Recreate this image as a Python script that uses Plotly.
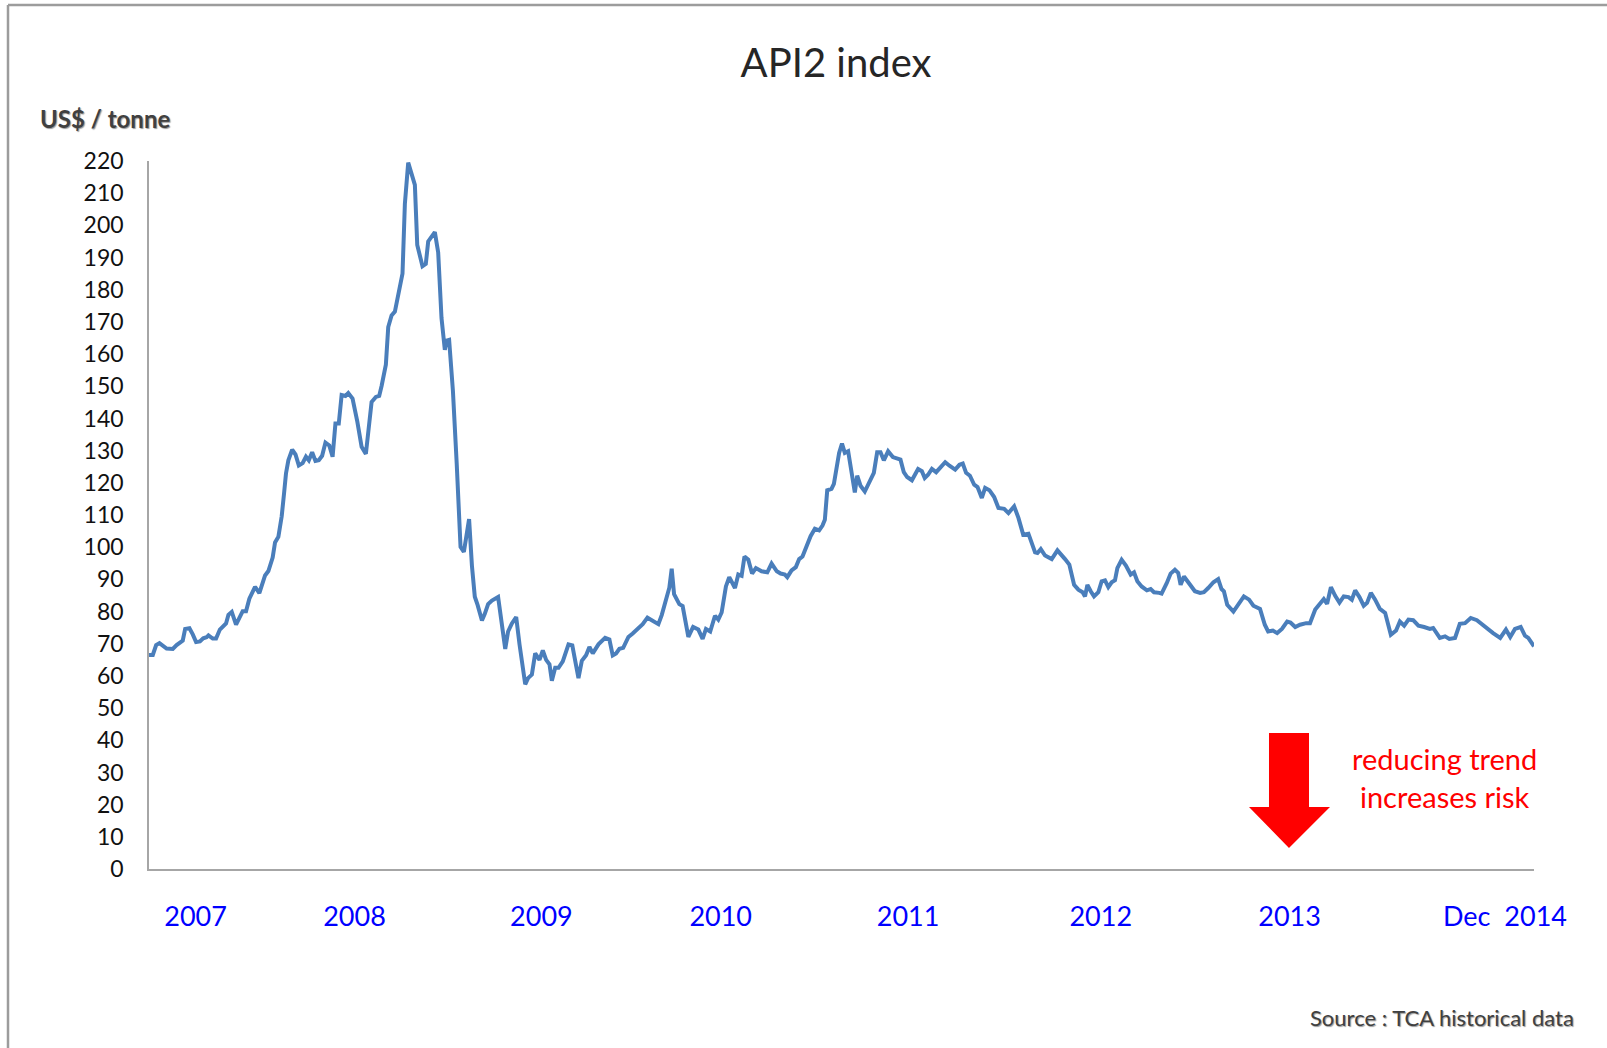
import pandas as pd
import plotly.graph_objects as go

# API2 coal index, US$/tonne. Observations are given as day offsets from the first print.
START = "2007-01-05"
day_offset = [
    0, 8, 15, 22, 37, 50, 58, 71, 76, 85, 92, 99, 107, 114, 121, 125, 134, 141, 149, 162,
    167, 174, 183, 190, 197, 204, 211, 223, 232, 244, 251, 260, 265, 272, 279, 284, 288, 293,
    301, 308, 315, 323, 330, 336, 343, 350, 357, 364, 371, 379, 386, 392, 399, 405, 413, 419,
    428, 438, 447, 456, 463, 468, 477, 484, 489, 498, 503, 510, 517, 524, 533, 538, 545,
    559, 564, 575, 582, 587, 601, 608, 615, 622, 626, 631, 639, 647, 655, 662, 673, 679, 685,
    691, 700, 706, 713, 721, 727, 734, 749, 755, 763, 772, 779, 786, 791, 797, 805, 812, 821,
    828, 835, 842, 847, 854, 861, 870, 882, 890, 903, 910, 919, 926, 933, 945, 959, 968, 975,
    982, 989, 997, 1008, 1017, 1031, 1038, 1048, 1059, 1071, 1078, 1088, 1094, 1099, 1104,
    1115, 1122, 1134, 1144,
    1155, 1164, 1171, 1180, 1190, 1197, 1204, 1213, 1220, 1232, 1239, 1246, 1252, 1260, 1268,
    1276, 1288, 1300, 1309, 1320, 1328, 1337, 1342, 1351, 1360, 1367, 1374, 1383, 1391, 1400,
    1409, 1416, 1421, 1426, 1435, 1440, 1446, 1451, 1457, 1463, 1470, 1477, 1484, 1489, 1496,
    1505, 1512, 1519, 1524, 1531, 1538, 1545, 1554, 1564, 1572, 1580, 1587, 1594, 1604, 1610,
    1617, 1625, 1631, 1638, 1646, 1655, 1665, 1674, 1683, 1695, 1704, 1711, 1718, 1726, 1735,
    1742, 1751, 1758, 1767, 1777, 1786, 1798, 1807, 1819, 1828, 1838, 1849, 1863, 1868, 1875,
    1884, 1898, 1910, 1917, 1926, 1935, 1945, 1954, 1963, 1968, 1973, 1980, 1987, 1996, 2003,
    2010, 2017, 2024, 2031, 2036, 2045, 2054, 2064, 2071, 2078, 2087, 2098, 2106, 2113, 2124,
    2129, 2140, 2148, 2157, 2164, 2169, 2176, 2187, 2199, 2210, 2218, 2227, 2238, 2248, 2255,
    2260, 2267, 2280, 2292, 2302, 2313,
    2322, 2336, 2346, 2353, 2363, 2372, 2382, 2393, 2400, 2410, 2420, 2433, 2441, 2452, 2461,
    2470, 2477, 2485, 2494, 2503, 2512, 2522, 2529, 2536, 2545, 2554, 2561, 2569, 2578, 2588,
    2599, 2611, 2622, 2630, 2639, 2648, 2658, 2669, 2681, 2693, 2700, 2714, 2725, 2734, 2746,
    2756, 2767, 2779, 2792, 2809, 2826, 2841, 2853, 2862, 2872, 2884, 2893, 2900, 2912,
]
price = [
    66.5, 66.5, 69.6, 70.2, 68.5, 68.4, 69.6, 71.0, 74.6, 74.8, 72.9, 70.5, 70.7, 71.7, 72.0,
    72.6, 71.6, 71.6, 74.4, 76.3, 79.0, 79.9, 75.9, 77.7, 80.1, 80.1, 84.0, 87.7, 85.7, 91.2,
    92.6, 96.8, 101.5, 103.2, 109.6, 116.8, 122.9, 127.0, 130.3, 128.8, 125.4, 126.1, 128.1,
    127.0, 129.5, 126.8, 127.0, 128.4, 132.5, 131.6, 128.1, 138.4, 138.4, 147.3, 147.0, 147.9,
    146.2, 139.0, 131.2, 129.0, 137.9, 145.1, 146.7, 147.0, 150.1, 156.7, 168.4, 172.0, 173.2,
    177.8, 185.0, 206.7, 219.5,
    212.6, 193.9, 187.3, 188.0, 195.0, 197.9, 191.6, 171.2, 161.3, 164.2, 164.4, 148.6, 125.9,
    100.1, 98.5, 108.7, 94.2, 84.6, 82.0, 77.2, 79.3, 82.3, 83.4, 83.8, 84.5, 68.4, 73.8, 76.3,
    78.3, 69.8, 61.9, 57.4, 59.3, 60.4, 67.0, 65.0, 67.9, 65.0, 63.6, 58.5, 62.5, 62.5, 64.5,
    69.8, 69.5, 59.3, 64.7, 66.4, 69.0, 67.0, 69.8, 71.8, 71.3, 66.4, 67.0, 68.4, 68.7, 72.1,
    73.2, 75.2, 76.1, 78.1, 77.2, 76.1, 78.9, 84.0, 87.4, 93.3, 85.4, 82.3, 81.7, 72.1, 75.2,
    74.4, 71.5, 74.6, 73.8, 78.7, 77.5, 79.7, 87.8, 90.7, 87.3, 91.5, 91.1, 97.1, 96.1, 91.8,
    93.5, 92.5, 92.2, 94.9, 92.5, 91.8, 91.5, 90.7, 92.8, 93.8, 96.3, 97.1, 100.2, 103.4, 105.7,
    105.2, 106.7, 108.5, 117.7, 118.1, 119.7, 125.6, 129.3, 132.2, 129.3, 129.8, 123.3, 117.0,
    122.2, 119.1, 117.3, 119.4, 121.0, 123.1, 129.5, 129.5, 127.0, 129.8, 128.0, 127.7, 127.2,
    123.3, 121.8, 120.8, 122.5, 124.3, 123.6, 121.5, 122.5, 124.3, 123.3, 124.9, 126.4, 125.3,
    124.1, 125.6, 126.0, 123.1, 122.2, 119.4, 118.7,
    115.3, 118.4, 117.7, 115.6, 112.2, 111.9, 110.6, 112.7, 109.1, 103.9, 104.2, 98.4, 98.2,
    99.4, 97.4, 96.3, 99.0, 98.0, 96.3, 94.6, 88.3, 86.8, 86.0, 84.7, 88.3, 86.3, 84.7, 86.0,
    89.4, 89.7, 87.6, 89.1, 89.7, 93.5, 96.1, 94.3, 91.5, 92.2, 89.4, 87.8, 86.6, 87.0, 86.0,
    85.8, 85.6, 88.9, 91.8, 93.0, 92.0, 88.3, 90.9, 88.7, 86.3, 85.8, 86.0, 87.3, 89.1, 90.1,
    87.0, 86.3, 82.1, 80.0, 82.4, 84.7, 83.7,
    81.8, 80.8, 75.9, 73.8, 74.1, 73.3, 74.6, 76.9, 76.6, 75.2, 75.9, 76.4, 76.4, 80.6, 82.4,
    83.9, 82.4, 87.6, 84.9, 82.8, 84.7, 84.5, 83.7, 86.6, 84.5, 81.8, 82.7, 85.8, 83.7, 80.8,
    79.6, 72.8, 74.1, 76.9, 75.6, 77.5, 77.3, 75.6, 75.2, 74.6, 74.9, 71.8, 72.3, 71.5, 71.8,
    76.2, 76.4, 78.0, 77.3, 75.2, 73.3, 71.8, 74.4, 72.1, 74.6, 75.2, 72.5, 71.8, 69.2,
]

# Year labels along the time axis
tick_dates = ["2007-04-13", "2008-03-12", "2009-04-09", "2010-04-21",
              "2011-05-20", "2012-06-28", "2013-07-30", "2014-10-26"]
tick_labels = ["2007", "2008", "2009", "2010", "2011", "2012", "2013", "Dec  2014"]

dates = pd.Timestamp(START) + pd.to_timedelta(day_offset, unit="D")

FONT = "Lato, 'Open Sans', sans-serif"

fig = go.Figure()
fig.add_trace(go.Scatter(
    x=dates, y=price, mode="lines",
    line=dict(color="#4A7EBB", width=4),
    hoverinfo="x+y", showlegend=False,
))

# Plot-area geometry used to place the paper-referenced decorations
W, H = 1607, 1048
L, R, T, B = 149, 1534, 161, 869


def px(xp):
    return (xp - L) / (R - L)


def py(yp):
    return (B - yp) / (B - T)


# Downward block arrow
arrow = [(1269, 733), (1309, 733), (1309, 807), (1330, 807), (1289, 848),
         (1249, 807), (1269, 807)]
path = "M " + " L ".join(f"{px(a):.5f},{py(b):.5f}" for a, b in arrow) + " Z"

shapes = [
    dict(type="path", path=path, xref="paper", yref="paper",
         fillcolor="#FF0000", line=dict(color="#FF0000", width=0)),
    # frame lines
    dict(type="line", xref="paper", yref="paper", x0=px(8), x1=px(W), y0=py(5), y1=py(5),
         line=dict(color="#9C9C9C", width=2.5)),
    dict(type="line", xref="paper", yref="paper", x0=px(8), x1=px(8), y0=py(5), y1=py(H),
         line=dict(color="#9C9C9C", width=2.5)),
]

annotations = [
    dict(text="US$ / tonne", xref="paper", yref="paper", x=px(105), y=py(118),
         xanchor="center", yanchor="middle", showarrow=False,
         font=dict(family=FONT, size=24, color="#404040", weight="bold",
                   shadow="1px 1px 1px #9a9a9a")),
    dict(text="Source : TCA historical data", xref="paper", yref="paper",
         x=px(1442), y=py(1017), xanchor="center", yanchor="middle", showarrow=False,
         font=dict(family=FONT, size=22, color="#404040",
                   shadow="1px 1px 1px #9a9a9a")),
    dict(text="reducing trend<br>increases risk", xref="paper", yref="paper",
         x=px(1444), y=py(777), xanchor="center", yanchor="middle", showarrow=False,
         align="center", font=dict(family=FONT, size=29, color="#FF0000")),
]

fig.update_layout(
    width=W, height=H,
    margin=dict(l=L, r=W - R, t=T, b=H - B),
    paper_bgcolor="white", plot_bgcolor="white",
    title=dict(text="API2 index", x=836 / W, xref="container", xanchor="center",
               y=1 - 63 / H, yref="container", yanchor="middle",
               font=dict(family=FONT, size=40, color="#262626")),
    shapes=shapes,
    annotations=annotations,
    xaxis=dict(
        type="date",
        range=[dates[0], dates[-1]],
        tickmode="array", tickvals=tick_dates, ticktext=tick_labels,
        showgrid=False, zeroline=False,
        showline=True, linecolor="#A6A6A6", linewidth=1.5,
        ticks="", ticklabelstandoff=23,
        tickfont=dict(family=FONT, size=27, color="#0000FF"),
    ),
    yaxis=dict(
        range=[0, 220], dtick=10, tick0=0,
        showgrid=False, zeroline=False,
        showline=True, linecolor="#A6A6A6", linewidth=1.5,
        ticks="", ticklabelstandoff=19,
        tickfont=dict(family=FONT, size=23, color="#111111"),
    ),
)

fig.write_html("out.html")
